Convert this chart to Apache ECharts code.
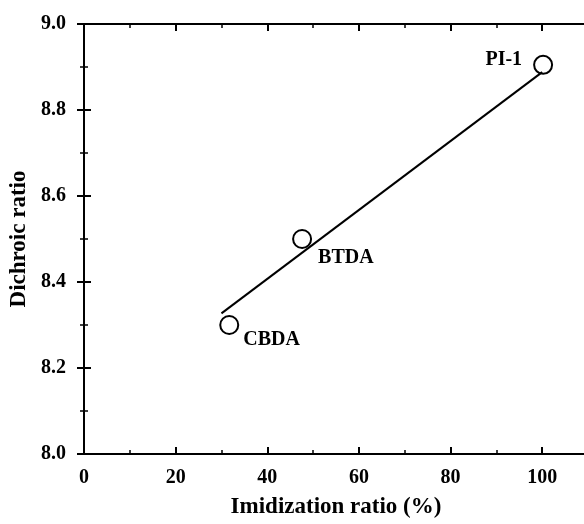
<!DOCTYPE html>
<html><head><meta charset="utf-8">
<script src="https://cdn.jsdelivr.net/npm/echarts@6/dist/echarts.min.js"></script>
<style>html,body{margin:0;padding:0;background:#fff}#c{width:584px;height:524px}</style>
</head><body><div id="c"></div>
<script>
const names = ['CBDA', 'BTDA', 'PI-1'];
const imidization = [31.7, 47.6, 100.2];
const dichroic = [8.30, 8.50, 8.905];
const fitX = [30, 100];
const fitY = [8.327, 8.888];
const xTicks = [0, 20, 40, 60, 80, 100];
const yTicks = [8.0, 8.2, 8.4, 8.6, 8.8, 9.0];

const font = '"Liberation Serif", "Times New Roman", serif';
const labelPos = {
  'CBDA': {position: 'right', distance: 4, offset: [0, 15]},
  'BTDA': {position: 'right', distance: 6, offset: [0, 19]},
  'PI-1': {position: 'left', distance: 5, offset: [-6, -5]}
};
const chart = echarts.init(document.getElementById('c'));
const axisCommon = {
  axisLine: {show: true, lineStyle: {color: '#000', width: 2}},
  axisTick: {show: true, inside: true, length: 7, lineStyle: {color: '#000', width: 2}},
  minorTick: {show: true, splitNumber: 2, length: 4, lineStyle: {color: '#000', width: 1.5}},
  splitLine: {show: false}
};
chart.setOption({
  animation: false,
  backgroundColor: '#fff',
  grid: {left: 84, top: 24, right: -4, bottom: 70, containLabel: false, outerBoundsMode: 'none'},
  xAxis: [
    Object.assign({
      type: 'value', min: 0, max: 110, interval: 20,
      name: 'Imidization ratio (%)', nameLocation: 'middle', nameGap: 42,
      nameTextStyle: {fontFamily: font, fontWeight: 'bold', fontSize: 23, color: '#000'},
      axisLabel: {fontFamily: font, fontWeight: 'bold', fontSize: 20, color: '#000', margin: 14,
        formatter: v => xTicks.includes(v) ? String(v) : ''}
    }, axisCommon),
    Object.assign({
      type: 'value', min: 0, max: 110, interval: 20, position: 'top',
      axisLabel: {show: false}
    }, axisCommon)
  ],
  yAxis: [
    Object.assign({
      type: 'value', min: 8.0, max: 9.0, interval: 0.2,
      name: 'Dichroic ratio', nameLocation: 'middle', nameGap: 51,
      nameTextStyle: {fontFamily: font, fontWeight: 'bold', fontSize: 23, color: '#000'},
      axisLabel: {fontFamily: font, fontWeight: 'bold', fontSize: 20, color: '#000', margin: 18,
        formatter: v => yTicks.find(t => Math.abs(t - v) < 1e-6) !== undefined ? v.toFixed(1) : ''}
    }, axisCommon),
    Object.assign({
      type: 'value', min: 8.0, max: 9.0, interval: 0.2, position: 'right',
      axisLabel: {show: false}
    }, axisCommon)
  ],
  series: [
    {
      type: 'line', data: fitX.map((x, i) => [x, fitY[i]]),
      symbol: 'none', lineStyle: {color: '#000', width: 2}, silent: true
    },
    {
      type: 'scatter',
      data: imidization.map((x, i) => ({
        value: [x, dichroic[i]], name: names[i],
        label: Object.assign({show: true, formatter: names[i], fontFamily: font, fontWeight: 'bold',
          fontSize: 20, color: '#000'}, labelPos[names[i]])
      })),
      symbol: 'circle', symbolSize: 18,
      itemStyle: {color: '#fff', borderColor: '#000', borderWidth: 2, opacity: 1},
      emphasis: {disabled: true}
    }
  ]
});
</script></body></html>
